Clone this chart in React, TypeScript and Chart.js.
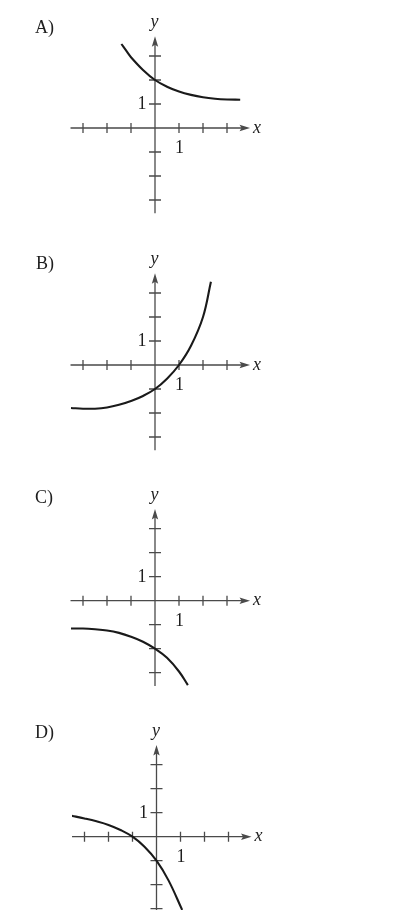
import React, { useEffect, useRef } from "react";
import { Chart, registerables } from "chart.js";

Chart.register(...registerables);

// ---- data ----
const PANEL_LABELS = ["A)", "B)", "C)", "D)"];
const TICK_VALUES = [-3, -2, -1, 1, 2, 3];
const TICK_LABEL = "1";
const X_AXIS_LABEL = "x";
const Y_AXIS_LABEL = "y";

const A_X = [-1.4, -1.2, -1.0, -0.5, 0, 0.5, 1.0, 1.5, 2.0, 2.5, 3.0, 3.55];
const A_Y = [3.5, 3.22, 2.95, 2.42, 2.0, 1.72, 1.52, 1.38, 1.28, 1.22, 1.19, 1.18];

const B_X = [-3.5, -3.0, -2.5, -2.0, -1.5, -1.0, -0.5, 0, 0.5, 1.0, 1.5, 2.0, 2.33];
const B_Y = [-1.79, -1.82, -1.82, -1.77, -1.66, -1.5, -1.29, -1.0, -0.57, 0, 0.8, 2.0, 3.47];

const C_X = [-3.5, -3.0, -2.5, -2.0, -1.5, -1.0, -0.5, 0, 0.5, 1.0, 1.37];
const C_Y = [-1.16, -1.16, -1.19, -1.24, -1.34, -1.5, -1.71, -2.0, -2.38, -2.95, -3.52];

const D_X = [-3.57, -3.0, -2.5, -2.0, -1.5, -1.0, -0.5, 0, 0.5, 1.07];
const D_Y = [0.88, 0.76, 0.64, 0.49, 0.28, 0, -0.42, -1.0, -1.82, -3.05];

const SERIES_X = [A_X, B_X, C_X, D_X];
const SERIES_Y = [A_Y, B_Y, C_Y, D_Y];

// ---- layout (positions / styles) ----
const W = 410;
const UNIT = 24;
const X_MIN = -3.52;
const X_MAX = 4.0;
const X_TIP = 3.96;
const Y_MAX = 3.85;
const Y_TIP = 3.82;

const PANELS = [
  { top: 0, h: 236, ox: 155, oy: 128, yMin: -3.55, labelDy: -95.3, labelX: 35 },
  { top: 237, h: 236, ox: 155, oy: 128, yMin: -3.55, labelDy: -96.5, labelX: 36 },
  { top: 473, h: 236, ox: 155, oy: 127.7, yMin: -3.55, labelDy: -97.4, labelX: 35 },
  { top: 709, h: 201, ox: 156.5, oy: 127.7, yMin: -(201 - 127.7) / UNIT, labelDy: -99, labelX: 35 },
];

const AXIS_COLOR = "#4a4a4a";
const TEXT_COLOR = "#1e1e1e";
const CURVE_COLOR = "#1a1a1a";
const FONT = '18px "Liberation Serif", "DejaVu Serif", serif';
const FONT_IT = 'italic 18px "Liberation Serif", "DejaVu Serif", serif';

const axesPlugin = {
  id: "axesPlugin",
  beforeDatasetsDraw(chart: any, _args: any, opts: any) {
    const ctx = chart.ctx as CanvasRenderingContext2D;
    const xs = chart.scales.x;
    const ys = chart.scales.y;
    const ox = xs.getPixelForValue(0);
    const oy = ys.getPixelForValue(0);
    const xL = xs.getPixelForValue(xs.min);
    const xT = xs.getPixelForValue(X_TIP);
    const yB = ys.getPixelForValue(ys.min);
    const yT = ys.getPixelForValue(Y_TIP);
    ctx.save();
    ctx.strokeStyle = AXIS_COLOR;
    ctx.fillStyle = AXIS_COLOR;
    ctx.lineWidth = 1.3;
    // axes lines
    ctx.beginPath();
    ctx.moveTo(xL, oy);
    ctx.lineTo(xT - 6, oy);
    ctx.moveTo(ox, yB);
    ctx.lineTo(ox, yT + 6);
    ctx.stroke();
    // arrows
    ctx.beginPath();
    ctx.moveTo(xT, oy);
    ctx.lineTo(xT - 10.5, oy - 3.2);
    ctx.lineTo(xT - 8.5, oy);
    ctx.lineTo(xT - 10.5, oy + 3.2);
    ctx.closePath();
    ctx.fill();
    ctx.beginPath();
    ctx.moveTo(ox, yT);
    ctx.lineTo(ox - 3.2, yT + 10.5);
    ctx.lineTo(ox, yT + 8.5);
    ctx.lineTo(ox + 3.2, yT + 10.5);
    ctx.closePath();
    ctx.fill();
    // tick marks
    ctx.beginPath();
    for (const v of TICK_VALUES) {
      const px = xs.getPixelForValue(v);
      ctx.moveTo(px, oy - 5);
      ctx.lineTo(px, oy + 5);
      const py = ys.getPixelForValue(v);
      if (py <= yB + 0.5) {
        ctx.moveTo(ox - 6, py);
        ctx.lineTo(ox + 6, py);
      }
    }
    ctx.stroke();
    // texts
    ctx.fillStyle = TEXT_COLOR;
    ctx.font = FONT;
    ctx.textAlign = "left";
    ctx.textBaseline = "alphabetic";
    ctx.fillText(opts.label, opts.labelX, oy + opts.labelDy);
    // tick labels "1"
    ctx.textAlign = "right";
    ctx.textBaseline = "middle";
    ctx.fillText(TICK_LABEL, ox - 8.5, ys.getPixelForValue(1) + 0.5);
    ctx.textAlign = "center";
    ctx.textBaseline = "alphabetic";
    ctx.fillText(TICK_LABEL, xs.getPixelForValue(1) + 0.5, oy + 25);
    // axis names
    ctx.font = FONT_IT;
    ctx.textAlign = "left";
    ctx.fillText(X_AXIS_LABEL, xT + 3, oy + 4.5);
    ctx.textAlign = "center";
    ctx.fillText(Y_AXIS_LABEL, ox - 0.5, yT - 9.5);
    ctx.restore();
  },
};

function Panel({ index }: { index: number }) {
  const ref = useRef<HTMLCanvasElement | null>(null);
  const p = PANELS[index];
  useEffect(() => {
    if (!ref.current) return;
    const xs = SERIES_X[index];
    const ysArr = SERIES_Y[index];
    const data = xs.map((x, i) => ({ x, y: ysArr[i] }));
    const chart = new Chart(ref.current, {
      type: "scatter",
      data: {
        datasets: [
          {
            data,
            showLine: true,
            borderColor: CURVE_COLOR,
            borderWidth: 2.1,
            pointRadius: 0,
            tension: 0.4,
            fill: false,
          } as any,
        ],
      },
      options: {
        responsive: false,
        animation: false,
        events: [],
        layout: {
          padding: {
            left: p.ox + X_MIN * UNIT,
            right: W - (p.ox + X_MAX * UNIT),
            top: p.oy - Y_MAX * UNIT,
            bottom: p.h - (p.oy - p.yMin * UNIT),
          },
        },
        scales: {
          x: { type: "linear", min: X_MIN, max: X_MAX, display: false },
          y: { type: "linear", min: p.yMin, max: Y_MAX, display: false },
        },
        plugins: {
          legend: { display: false },
          tooltip: { enabled: false },
          axesPlugin: { label: PANEL_LABELS[index], labelDy: p.labelDy, labelX: p.labelX },
        } as any,
      },
      plugins: [axesPlugin],
    });
    return () => chart.destroy();
  }, [index]);
  return (
    <div style={{ position: "absolute", left: 0, top: p.top, width: W, height: p.h }}>
      <canvas ref={ref} width={W} height={p.h} style={{ width: W, height: p.h, display: "block" }} />
    </div>
  );
}

export default function App() {
  return (
    <div
      style={{
        position: "absolute",
        left: 0,
        top: 0,
        width: W,
        height: 910,
        overflow: "hidden",
        background: "#ffffff",
      }}
    >
      {PANELS.map((_, i) => (
        <Panel key={i} index={i} />
      ))}
    </div>
  );
}
